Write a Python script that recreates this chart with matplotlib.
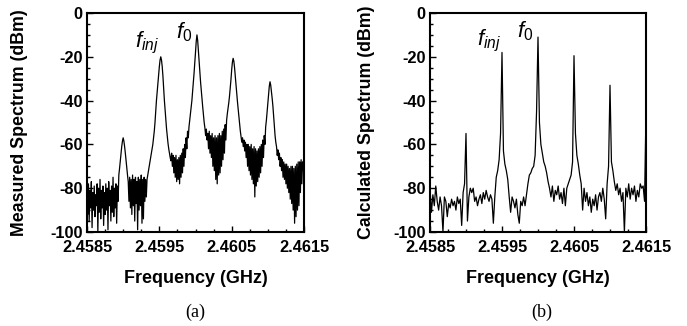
import numpy as np
import matplotlib
matplotlib.use("Agg")
import matplotlib.pyplot as plt
from matplotlib.ticker import MultipleLocator, FixedLocator

plt.rcParams['font.family'] = ['Liberation Sans', 'DejaVu Sans']
plt.rcParams['mathtext.fontset'] = 'custom'
plt.rcParams['mathtext.it'] = 'Liberation Sans:italic'
plt.rcParams['mathtext.rm'] = 'Liberation Sans'

# ---------------- data ----------------
f_start = 2.4585          # GHz
meas_step = 0.00001       # GHz, measured trace sample spacing
calc_step = 0.00002       # GHz, calculated trace sample spacing

measured_dbm = [
    -80, -92, -78, -95, -81, -89, -77, -98, -82, -90,
    -79, -93, -83, -88, -78, -100, -80, -91, -76, -94,
    -81, -89, -79, -97, -82, -92, -78, -90, -80, -99,
    -77, -88, -81, -95, -79, -91, -75, -93, -80, -89,
    -78, -96, -79, -86, -74, -71, -67.5, -64, -61, -58.5,
    -57, -58.5, -61, -64, -67.5, -71, -74, -77, -86, -75,
    -89, -76, -92, -74, -88, -76, -95, -75, -87, -77,
    -99, -75, -90, -76, -88, -74, -96, -76, -94, -75,
    -86, -76, -84, -76, -74, -72, -70, -68, -66, -64,
    -62, -60, -57, -54, -50, -45, -40, -36, -32, -28,
    -24.5, -21.5, -20, -21.5, -24.5, -29, -34.5, -40, -44.5, -49,
    -53, -56.5, -59.5, -62, -64, -66, -67.5, -64, -70, -65,
    -73, -66, -75, -65, -77, -67, -76, -66, -78, -65,
    -75, -64, -73, -62, -70, -60, -66, -57, -62, -54,
    -57, -52, -49, -46, -43, -40, -36, -32, -27.5, -23,
    -18, -13, -10, -12.5, -17, -22, -27, -31.5, -35.5, -39.5,
    -43, -46.5, -50, -52.5, -56, -53, -58, -55, -62, -54,
    -64, -56, -66, -55, -70, -57, -72, -56, -76, -57,
    -78, -56, -74, -55, -73, -56, -70, -54, -67, -53,
    -64, -51, -58, -49, -46, -43.5, -41, -38, -34.5, -30.5,
    -26, -22.5, -20.7, -22, -25, -29, -33, -37, -40.5, -44,
    -47.5, -51, -54, -56.5, -59, -57, -61, -58, -63, -59,
    -66, -60, -70, -60, -72, -61, -74, -60, -76, -62,
    -78, -61, -84, -62, -79, -63, -77, -62, -75, -61,
    -73, -60, -70, -58, -66, -56, -60, -52, -49, -45,
    -41, -37, -33.5, -31.4, -33, -36, -39, -42.5, -47, -52,
    -56, -59, -61, -65, -62.5, -67, -64, -70, -66, -72,
    -67, -75, -68, -76, -69, -78, -69, -80, -70, -82,
    -71, -85, -70, -87, -70, -90, -71, -96, -70, -93,
    -69, -90, -68, -88, -68, -82, -67, -78, -68, -72,
    -61,
]

calculated_dbm = [
    -80, -91, -83, -88, -79, -86, -90, -84, -88, -100,
    -84, -86, -93, -87, -89, -85, -88, -86, -90, -84,
    -87, -85, -97, -82, -78, -55, -95, -84, -80, -82,
    -80, -86, -84, -88, -85, -83, -87, -82, -85, -81,
    -84, -86, -83, -85, -96, -84, -75, -72, -67, -55,
    -18, -63, -69, -72, -76, -84, -91, -84, -86, -89,
    -85, -92, -96, -86, -88, -84, -88, -83, -78, -74,
    -73, -71, -70, -65, -45, -11, -50, -60, -64, -68,
    -70, -73, -77, -80, -84, -79, -86, -81, -83, -79,
    -85, -82, -87, -80, -88, -80, -78, -76, -74, -68,
    -19.5, -55, -65, -69, -74, -78, -90, -80, -86, -82,
    -88, -84, -91, -85, -88, -83, -90, -84, -82, -86,
    -80, -85, -94, -78, -70, -33, -68, -72, -77, -81,
    -78, -83, -80, -86, -82, -100, -80, -84, -78, -85,
    -80, -83, -79, -86, -81, -84, -78, -80, -79, -86,
    -45,
]

x_ticks = [2.4585, 2.4595, 2.4605, 2.4615]
x_tick_labels = ["2.4585", "2.4595", "2.4605", "2.4615"]
y_ticks = [0, -20, -40, -60, -80, -100]
y_tick_labels = ["0", "-20", "-40", "-60", "-80", "-100"]

panel_ylabels = ["Measured Spectrum (dBm)", "Calculated Spectrum (dBm)"]
panel_tags = ["(a)", "(b)"]
ann_labels = [r"$f_{inj}$", r"$f_0$"]

meas_f = f_start + np.arange(len(measured_dbm)) * meas_step
calc_f = f_start + np.arange(len(calculated_dbm)) * calc_step

# ---------------- figure ----------------
fig = plt.figure(figsize=(6.87, 3.26), dpi=100)
ax_a = fig.add_axes([87/687, 94/326, 217/687, 219/326])
ax_b = fig.add_axes([430/687, 94/326, 216/687, 219/326])

ax_a.plot(meas_f, measured_dbm, color='black', lw=0.9)
ax_b.plot(calc_f, calculated_dbm, color='black', lw=0.9)

ann_pos = {
    0: [(2.45916, -15.5), (2.45973, -11.5)],
    1: [(2.45915, -15.0), (2.45971, -11.0)],
}
ylabel_x = [-0.272, -0.255]
tag_x = [195/687, 542/687]

for idx, ax in enumerate([ax_a, ax_b]):
    ax.set_xlim(2.4585, 2.4615)
    ax.set_ylim(-100, 0)
    ax.xaxis.set_major_locator(FixedLocator(x_ticks))
    ax.set_xticklabels(x_tick_labels)
    ax.xaxis.set_minor_locator(MultipleLocator(0.00025))
    ax.set_yticks(y_ticks)
    ax.set_yticklabels(y_tick_labels)
    ax.yaxis.set_minor_locator(MultipleLocator(5))
    ax.tick_params(which='both', direction='in', top=False, right=False,
                   width=1.0, labelsize=11.8)
    ax.tick_params(which='major', length=4)
    ax.tick_params(axis='x', which='major', pad=5.5)
    ax.tick_params(axis='y', which='major', pad=3)
    ax.tick_params(which='minor', length=2.3)
    for lab in ax.get_xticklabels() + ax.get_yticklabels():
        lab.set_fontweight('bold')
    for sp in ax.spines.values():
        sp.set_linewidth(1.5)
    ax.set_xlabel("Frequency (GHz)", fontsize=13, fontweight='bold')
    ax.xaxis.set_label_coords(0.5, -0.172)
    ax.set_ylabel(panel_ylabels[idx], fontsize=12.8, fontweight='bold')
    ax.yaxis.set_label_coords(ylabel_x[idx], 0.5)
    for (xx, yy), lab in zip(ann_pos[idx], ann_labels):
        ax.text(xx, yy, lab, fontsize=16, ha='left', va='baseline')
    fig.text(tag_x[idx], 14/326, panel_tags[idx], ha='center', va='center',
             fontsize=13, family='Liberation Serif')

fig.savefig("out.png", dpi=100)
